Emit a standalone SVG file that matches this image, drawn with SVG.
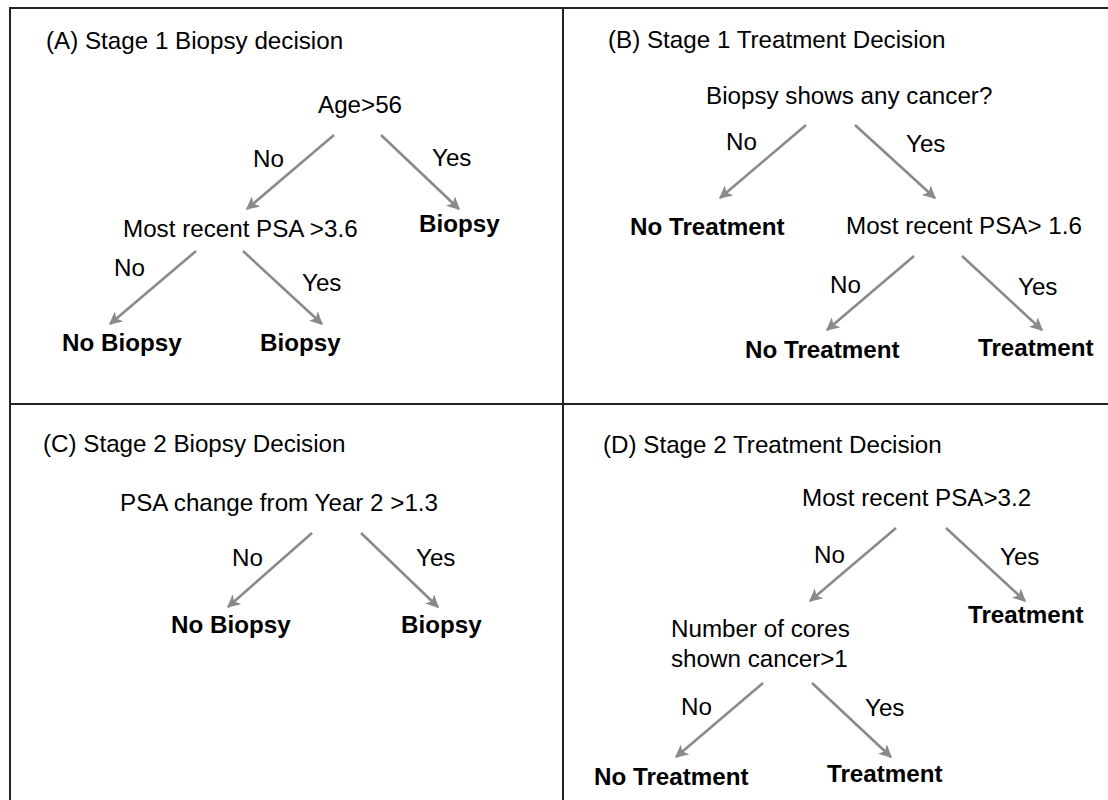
<svg xmlns="http://www.w3.org/2000/svg" width="1108" height="800" viewBox="0 0 1108 800">
<defs>
<style>
text{font-family:"Liberation Sans",Arial,Helvetica,sans-serif;font-size:24.2px;fill:#000}
.b{font-weight:bold}
.frame{stroke:#222;stroke-width:2;fill:none}
.arr{stroke:#8a8a8a;stroke-width:2.6;fill:none;marker-end:url(#ah)}
</style>
<marker id="ah" viewBox="0 0 10 10" refX="9" refY="5" markerWidth="5" markerHeight="5" orient="auto" markerUnits="strokeWidth">
<path d="M0,0 L10,5 L0,10 L2.5,5 Z" fill="#8a8a8a"/>
</marker>
</defs>
<rect width="1108" height="800" fill="#fff"/>
<g id="frame">
<path class="frame" d="M10,800 V8 H1108 M563,8 V800 M10,404 H1108"/>
</g>
<g id="connectors">
<line class="arr" x1="334" y1="135" x2="247" y2="209"/>
<line class="arr" x1="381" y1="135" x2="459" y2="209"/>
<line class="arr" x1="196" y1="251" x2="110" y2="324"/>
<line class="arr" x1="243" y1="251" x2="322" y2="324"/>
<line class="arr" x1="806" y1="125" x2="720" y2="198"/>
<line class="arr" x1="855" y1="125" x2="935" y2="198"/>
<line class="arr" x1="914" y1="256" x2="827" y2="330"/>
<line class="arr" x1="962" y1="256" x2="1042" y2="330"/>
<line class="arr" x1="312" y1="533" x2="228" y2="607"/>
<line class="arr" x1="361" y1="533" x2="438" y2="607"/>
<line class="arr" x1="896" y1="528" x2="810" y2="601"/>
<line class="arr" x1="946" y1="528" x2="1025" y2="601"/>
<line class="arr" x1="763" y1="683" x2="676" y2="757"/>
<line class="arr" x1="812" y1="683" x2="891" y2="757"/>
</g>
<g id="panelA">
<text x="46" y="49">(A) Stage 1 Biopsy decision</text>
<g id="a_age"><text x="318" y="113">Age&gt;56</text></g>
<text x="253" y="167">No</text>
<text x="432" y="166">Yes</text>
<g id="a_psa"><text x="123" y="237">Most recent PSA &gt;3.6</text></g>
<g id="a_biopsy1"><text class="b" x="419" y="232">Biopsy</text></g>
<text x="114" y="276">No</text>
<text x="302" y="291">Yes</text>
<g id="a_nobiopsy"><text class="b" x="62" y="351">No Biopsy</text></g>
<g id="a_biopsy2"><text class="b" x="260" y="351">Biopsy</text></g>
</g>
<g id="panelB">
<text x="608" y="48">(B) Stage 1 Treatment Decision</text>
<g id="b_cancer"><text x="706" y="104">Biopsy shows any cancer?</text></g>
<text x="726" y="150">No</text>
<text x="906" y="152">Yes</text>
<g id="b_notreat1"><text class="b" x="630" y="235">No Treatment</text></g>
<g id="b_psa"><text x="846" y="234">Most recent PSA&gt; 1.6</text></g>
<text x="830" y="293">No</text>
<text x="1018" y="295">Yes</text>
<g id="b_notreat2"><text class="b" x="745" y="358">No Treatment</text></g>
<g id="b_treat"><text class="b" x="978" y="356">Treatment</text></g>
</g>
<g id="panelC">
<text x="43" y="452">(C) Stage 2 Biopsy Decision</text>
<g id="c_psa"><text x="120" y="511">PSA change from Year 2 &gt;1.3</text></g>
<text x="232" y="566">No</text>
<text x="416" y="566">Yes</text>
<g id="c_nobiopsy"><text class="b" x="171" y="633">No Biopsy</text></g>
<g id="c_biopsy"><text class="b" x="401" y="633">Biopsy</text></g>
</g>
<g id="panelD">
<text x="603" y="453">(D) Stage 2 Treatment Decision</text>
<g id="d_psa"><text x="802" y="506">Most recent PSA&gt;3.2</text></g>
<text x="814" y="563">No</text>
<text x="1000" y="565">Yes</text>
<g id="d_treat1"><text class="b" x="968" y="623">Treatment</text></g>
<g id="d_cores"><text x="671" y="637">Number of cores</text><text x="671" y="667">shown cancer&gt;1</text></g>
<text x="681" y="715">No</text>
<text x="865" y="716">Yes</text>
<g id="d_notreat"><text class="b" x="594" y="785">No Treatment</text></g>
<g id="d_treat2"><text class="b" x="827" y="782">Treatment</text></g>
</g>
</svg>
